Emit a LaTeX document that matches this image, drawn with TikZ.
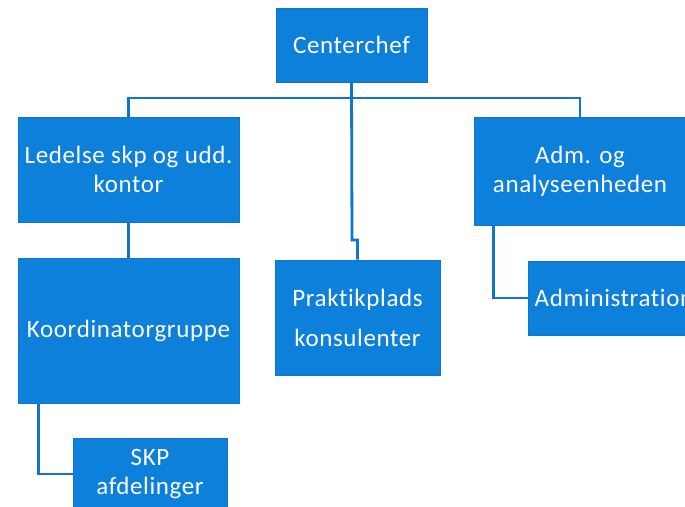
\documentclass[tikz,border=0pt]{standalone}
\usepackage{fontspec}
\setmainfont[LetterSpace=2.5, Ligatures=NoCommon]{Carlito}
\usepackage{tikz}
\usetikzlibrary{calc}
\usetikzlibrary{positioning}
\definecolor{boxblue}{RGB}{12,128,218}
\definecolor{lineblue}{RGB}{18,116,204}
\tikzstyle{unitbox}=[draw=lineblue, line width=0.6pt, fill=boxblue, text=white, shape=rectangle, inner sep=0pt, align=center, font=\fontsize{25}{29}\selectfont]
\tikzstyle{conn}=[draw=lineblue, line width=2.8pt]

\begin{document}
\begin{tikzpicture}[x=1pt, y=-1pt]
\clip (0,0) rectangle (685,506);
\fill[white] (0,0) rectangle (685,506);
\node [unitbox, minimum width=151pt, minimum height=74pt] (chef) at (351.5,45) {Centerchef};
\node [unitbox, minimum width=221pt, minimum height=105pt] (ledelse) at (128.5,169.5) {Ledelse skp og udd.\\kontor};
\node [unitbox, minimum width=212pt, minimum height=108pt] (adm) at (580,171) {Adm. og\\analyseenheden};
\node [unitbox, minimum width=221pt, minimum height=145pt] (koord) at (128.5,330.5) {Koordinatorgruppe};
\node [unitbox, minimum width=165pt, minimum height=115pt, font=\fontsize{25}{40}\selectfont] (prakt) at (357.5,317.5) {Praktikplads\\konsulenter};
\node [unitbox, minimum width=172pt, minimum height=74pt] (admin) at (614,298) {Administration};
\node [unitbox, minimum width=154pt, minimum height=72pt] (skp) at (150,474) {SKP\\afdelinger};

\coordinate (bar) at (352,98);
\coordinate (jog) at (352,240);
\draw[conn] (ledelse.north) |- (bar) -| (adm.north);
\draw[conn] (chef.south) -- (jog) -| (prakt.north);
\draw[conn] (ledelse.south) -- (koord.north);
\draw[conn] ([xshift=20pt]adm.south west) |- (admin.west);
\draw[conn] ([xshift=21pt]koord.south west) |- (skp.west);
\end{tikzpicture}
\end{document}
